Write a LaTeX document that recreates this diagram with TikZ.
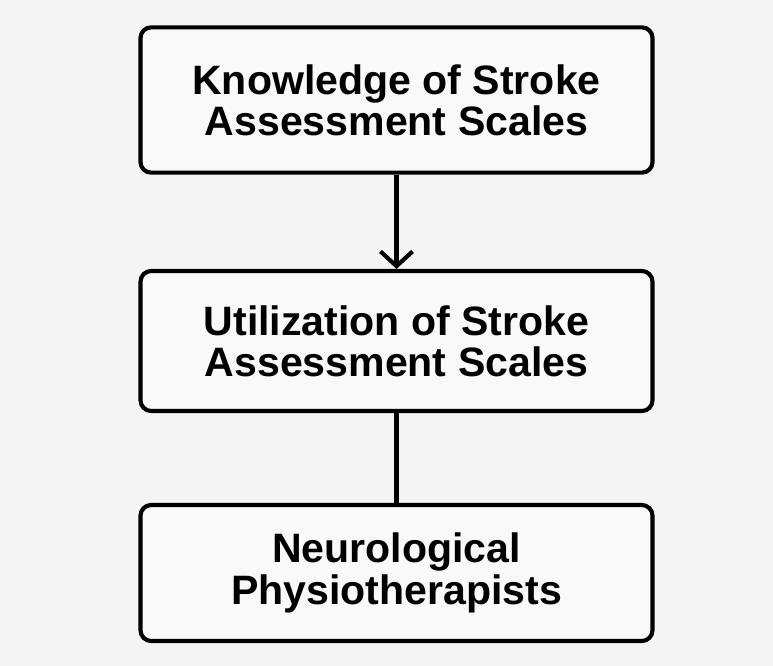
\documentclass[tikz,border=0pt]{standalone}
\usepackage{fontspec}
\setmainfont{Liberation Sans}
\usetikzlibrary{arrows.meta}
\definecolor{pagebg}{RGB}{244,244,244}
\definecolor{boxfill}{RGB}{249,249,249}
\begin{document}
\begin{tikzpicture}[x=0.75pt,y=-0.75pt,
  stagebox/.style={draw=black, line width=3.1pt, rounded corners=8pt, fill=boxfill,
    minimum width=384pt, align=center, font=\fontsize{30.8}{31}\selectfont\bfseries},
  link/.style={line width=3.1pt, black}]
  \fill[pagebg] (0,0) rectangle (773,666);
  \useasboundingbox (0,0) rectangle (773,666);
  \node[stagebox, minimum height=109pt] (know) at (396.5,100) {Knowledge of Stroke\\Assessment Scales};
  \node[stagebox, minimum height=105pt] (util) at (396.5,341) {Utilization of Stroke\\Assessment Scales};
  \node[stagebox, minimum height=102pt] (neuro) at (396.5,573) {Neurological\\Physiotherapists};
  \draw[link, -{Straight Barb[length=11pt,width=24pt,line width=3.1pt]}] (know.south) -- (util.north);
  \draw[link] (util.south) -- (neuro.north);
\end{tikzpicture}
\end{document}
